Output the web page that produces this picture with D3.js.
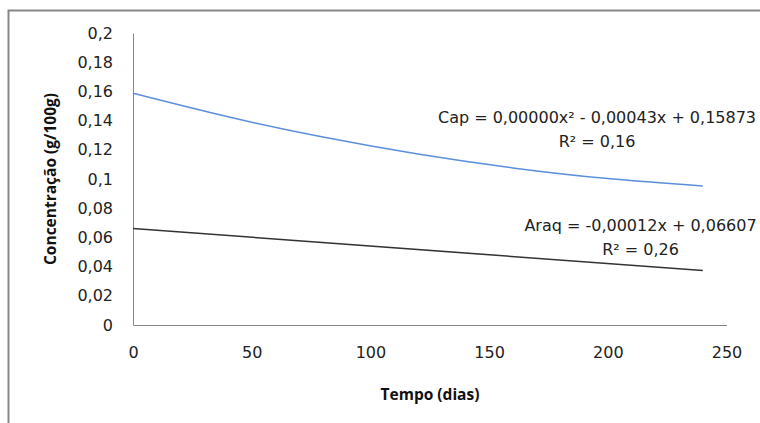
<!DOCTYPE html>
<html>
<head>
<meta charset="utf-8">
<script src="https://cdn.jsdelivr.net/npm/d3@7"></script>
<style>
  html, body { margin: 0; padding: 0; background: #fff; }
  svg { display: block; }
</style>
</head>
<body>
<svg id="chart" width="760" height="423"></svg>
<script>
// ---- data ----
const xTicks = [0, 50, 100, 150, 200, 250];
const yTicks = [0, 0.02, 0.04, 0.06, 0.08, 0.1, 0.12, 0.14, 0.16, 0.18, 0.2];
const capDays = [0, 40, 80, 120, 160, 200, 240];
const capValues = [0.1587, 0.1426, 0.1287, 0.1171, 0.1076, 0.1003, 0.0952];
const araqDays = [0, 240];
const araqValues = [0.0661, 0.0373];
const capLabel = ["Cap = 0,00000x² - 0,00043x + 0,15873", "R² = 0,16"];
const araqLabel = ["Araq = -0,00012x + 0,06607", "R² = 0,26"];
const xTitle = "Tempo (dias)";
const yTitle = "Concentração (g/100g)";

const fmt = v => String(+v.toFixed(2)).replace(".", ",");

const svg = d3.select("#chart");
const font = "'DejaVu Sans', sans-serif";

// outer frame (extends beyond the picture on right and bottom)
svg.append("rect")
  .attr("x", 8.5).attr("y", 10.5)
  .attr("width", 900).attr("height", 600)
  .attr("fill", "none").attr("stroke", "#878787").attr("stroke-width", 2);

const x = d3.scaleLinear().domain([0, 250]).range([133, 726.5]);
const y = d3.scaleLinear().domain([0, 0.2]).range([325, 33]);

// axes
const xAxis = svg.append("g").attr("transform", `translate(0,${y(0)})`)
  .call(d3.axisBottom(x).tickValues(xTicks).tickSize(0).tickPadding(22).tickFormat(d => d));
const yAxis = svg.append("g").attr("transform", `translate(${x(0)},0)`)
  .call(d3.axisLeft(y).tickValues(yTicks).tickSize(0).tickPadding(20).tickFormat(fmt));

[xAxis, yAxis].forEach(g => {
  g.select(".domain").attr("stroke", "#868686").attr("stroke-width", 1);
  g.selectAll("text").attr("font-family", font).attr("font-size", 16).attr("fill", "#222");
});

// series
const capLine = d3.line().x(d => x(d[0])).y(d => y(d[1])).curve(d3.curveNatural);
svg.append("path")
  .datum(capDays.map((d, i) => [d, capValues[i]]))
  .attr("d", capLine).attr("fill", "none")
  .attr("stroke", "#5b8fdb").attr("stroke-width", 1.5);

const araqLine = d3.line().x(d => x(d[0])).y(d => y(d[1]));
svg.append("path")
  .datum(araqDays.map((d, i) => [d, araqValues[i]]))
  .attr("d", araqLine).attr("fill", "none")
  .attr("stroke", "#333").attr("stroke-width", 1.5);

// trendline labels
function label(lines, cx, cy) {
  const t = svg.append("text").attr("font-family", font).attr("font-size", 16)
    .attr("fill", "#222").attr("text-anchor", "middle");
  lines.forEach((s, i) => {
    t.append("tspan").attr("x", cx).attr("y", cy + i * 24.5).attr("dy", "0.35em").text(s);
  });
}
label(capLabel, 597, 117);
label(araqLabel, 640.5, 225);

// axis titles
svg.append("text").attr("x", 430).attr("y", 395).attr("dy", "0.35em")
  .attr("text-anchor", "middle").attr("font-family", "'Open Sans', sans-serif")
  .attr("font-weight", "bold").attr("font-size", 15.5).attr("fill", "#111").text(xTitle);
svg.append("text").attr("transform", "translate(51,179) rotate(-90)").attr("dy", "0.35em")
  .attr("text-anchor", "middle").attr("font-family", "'Open Sans', sans-serif")
  .attr("font-weight", "bold").attr("font-size", 15.5).attr("fill", "#111").text(yTitle);
</script>
</body>
</html>
